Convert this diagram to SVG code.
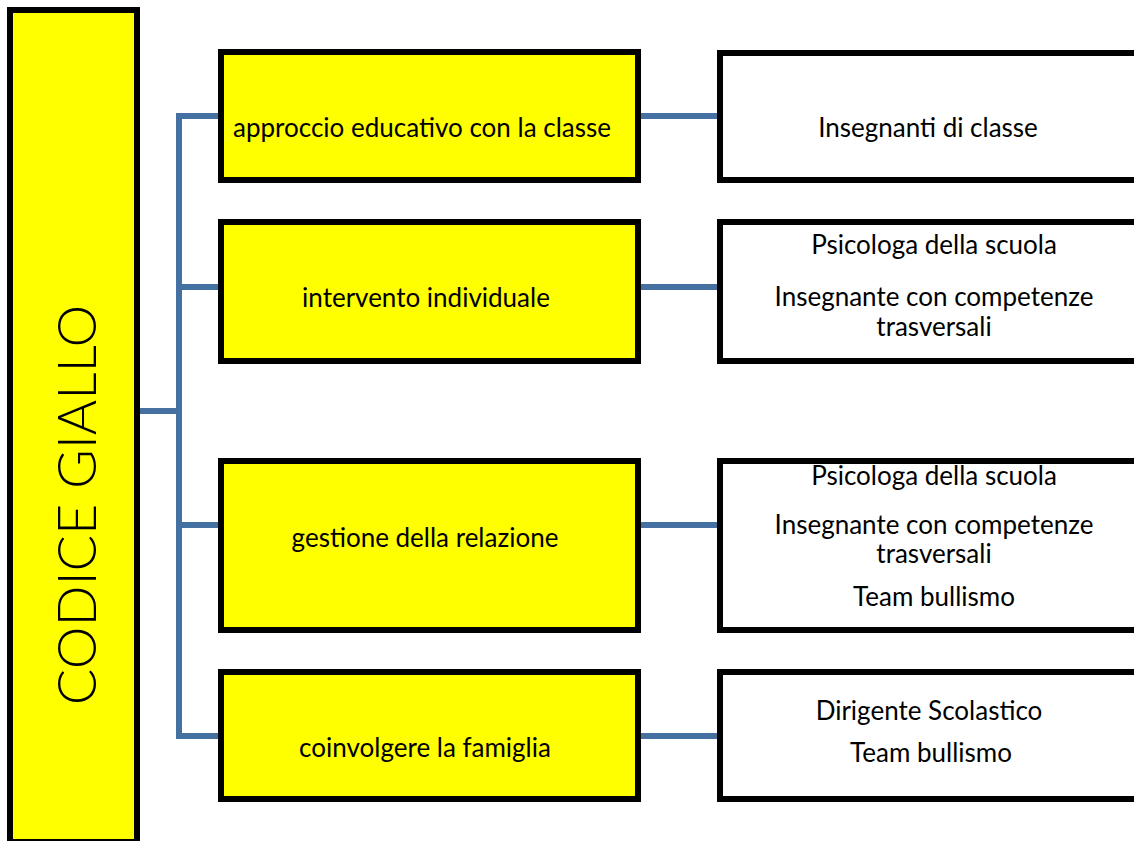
<svg xmlns="http://www.w3.org/2000/svg" width="1134" height="841" viewBox="0 0 1134 841">
<style>
.yb{fill:#ffff00;stroke:#000;stroke-width:6}
.wb{fill:#fff;stroke:#000;stroke-width:6}
.t{font-family:Lato,"Noto Sans","Liberation Sans",sans-serif;font-size:26px;fill:#000;text-anchor:middle}
.main{font-family:Lato,"Noto Sans","Liberation Sans",sans-serif;font-weight:300;font-size:54px;fill:#000;text-anchor:middle}
.c{fill:none;stroke:#4570a2;stroke-width:6}
</style>
<rect width="1134" height="841" fill="#fff"/>
<g id="connectors">
<path class="c" d="M137 411H179M179 113V739M179 116H221M179 287H221M179 525H221M179 736H221"/>
<path class="c" d="M638 116H720M638 287H720M638 525H720M638 736H720"/>
</g>
<g id="main">
<rect class="yb" x="10" y="10" width="127" height="832"/>
<text class="main" transform="translate(96,505) rotate(-90)">CODICE GIALLO</text>
</g>
<g id="n1">
<rect class="yb" x="221" y="52" width="417" height="128"/>
<text class="t" x="422" y="137">approccio educativo con la classe</text>
</g>
<g id="n2">
<rect class="yb" x="221" y="222" width="417" height="139"/>
<text class="t" x="426" y="307">intervento individuale</text>
</g>
<g id="n3">
<rect class="yb" x="221" y="461" width="417" height="169"/>
<text class="t" x="425" y="547">gestione della relazione</text>
</g>
<g id="n4">
<rect class="yb" x="221" y="672" width="417" height="127"/>
<text class="t" x="425" y="757">coinvolgere la famiglia</text>
</g>
<g id="w1">
<rect class="wb" x="720" y="53" width="430" height="127"/>
<text class="t" x="928" y="137">Insegnanti di classe</text>
</g>
<g id="w2">
<rect class="wb" x="720" y="222" width="430" height="139"/>
<text class="t" x="934" y="254">Psicologa della scuola</text>
<text class="t" x="934" y="306">Insegnante con competenze</text>
<text class="t" x="934" y="336">trasversali</text>
</g>
<g id="w3">
<rect class="wb" x="720" y="461" width="430" height="169"/>
<text class="t" x="934" y="485">Psicologa della scuola</text>
<text class="t" x="934" y="534">Insegnante con competenze</text>
<text class="t" x="934" y="563">trasversali</text>
<text class="t" x="934" y="606">Team bullismo</text>
</g>
<g id="w4">
<rect class="wb" x="720" y="672" width="430" height="127"/>
<text class="t" x="929" y="720">Dirigente Scolastico</text>
<text class="t" x="931" y="762">Team bullismo</text>
</g>
</svg>
